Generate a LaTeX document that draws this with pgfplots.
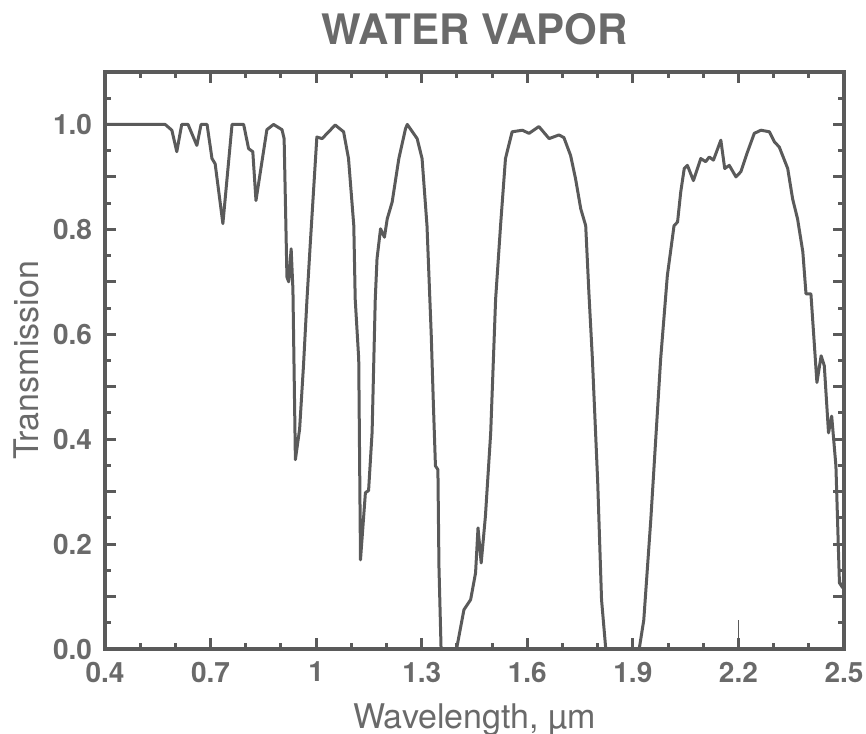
\documentclass[border=0pt]{standalone}
\usepackage{fontspec}
\setmainfont{TeX Gyre Heros}
\usepackage{pgfplots}
\pgfplotsset{compat=1.18}
\definecolor{ink}{HTML}{5A5A5A}
\definecolor{txt}{HTML}{6A6A6A}

\begin{document}
\begin{tikzpicture}
\begin{axis}[
    scale only axis,
    width=369.5pt,
    height=288.5pt,
    xmin=0.4, xmax=2.5,
    ymin=0, ymax=1.1,
    axis line style={ink, line width=1.6pt},
    tick align=inside,
    tick style={ink, line width=1.5pt},
    major tick length=5.5pt,
    minor tick length=3pt,
    xtick={0.4,0.7,1.0,1.3,1.6,1.9,2.2,2.5},
    xticklabels={0.4,0.7,1,1.3,1.6,1.9,2.2,2.5},
    minor x tick num=2,
    ytick={0,0.1,0.2,0.3,0.4,0.5,0.6,0.7,0.8,0.9,1.0,1.1},
    yticklabels={0.0,,0.2,,0.4,,0.6,,0.8,,1.0,},
    minor y tick num=1,
    /pgf/number format/assume math mode=true,
    ticklabel style={font=\fontsize{14}{16}\selectfont\bfseries, text=txt},
    yticklabel style={xshift=-3pt},
    xticklabel style={yshift=-3pt},
    xlabel={Wavelength, µm},
    ylabel={Transmission},
    label style={font=\fontsize{17}{19}\selectfont, text=txt},
    xlabel style={yshift=-3.5pt},
    ylabel style={yshift=0pt},
    title={WATER VAPOR},
    title style={font=\fontsize{21}{24}\selectfont\bfseries, text=txt, yshift=4pt},
]
\addplot[ink, line width=1.5pt, line join=round] coordinates {
  (0.400,1.000) (0.571,1.000) (0.590,0.989) (0.604,0.948) (0.618,1.000)
  (0.636,1.000) (0.661,0.960) (0.673,1.000) (0.690,1.000) (0.704,0.935)
  (0.713,0.925) (0.735,0.811) (0.761,1.000) (0.794,1.000) (0.808,0.954)
  (0.820,0.948) (0.829,0.855) (0.860,0.990) (0.879,1.000) (0.903,0.990)
  (0.909,0.973) (0.917,0.709) (0.922,0.700) (0.929,0.763) (0.934,0.686)
  (0.941,0.361) (0.953,0.419) (0.964,0.540) (0.974,0.667) (0.983,0.769)
  (1.002,0.976) (1.017,0.973) (1.040,0.989) (1.054,0.999) (1.078,0.986)
  (1.092,0.935) (1.107,0.807) (1.111,0.667) (1.121,0.553) (1.126,0.170)
  (1.140,0.298) (1.149,0.302) (1.159,0.413) (1.168,0.667) (1.173,0.744)
  (1.183,0.801) (1.194,0.785) (1.202,0.820) (1.216,0.852) (1.235,0.935)
  (1.254,0.992) (1.259,1.000) (1.287,0.973) (1.301,0.935) (1.315,0.807)
  (1.327,0.600) (1.333,0.470) (1.339,0.349) (1.346,0.342) (1.349,0.157)
  (1.355,0.000) (1.399,0.000) (1.420,0.075) (1.439,0.094) (1.453,0.145)
  (1.460,0.231) (1.469,0.164) (1.481,0.253) (1.496,0.412) (1.510,0.667)
  (1.524,0.807) (1.538,0.935) (1.557,0.986) (1.586,0.989) (1.605,0.983)
  (1.633,0.996) (1.662,0.973) (1.690,0.980) (1.704,0.975) (1.723,0.941)
  (1.737,0.897) (1.752,0.839) (1.766,0.807) (1.775,0.680) (1.785,0.553)
  (1.800,0.320) (1.811,0.094) (1.823,0.000) (1.918,0.000) (1.931,0.055)
  (1.951,0.247) (1.965,0.400) (1.979,0.553) (1.998,0.712) (2.017,0.807)
  (2.027,0.814) (2.036,0.871) (2.046,0.916) (2.055,0.922) (2.072,0.893)
  (2.093,0.935) (2.107,0.929) (2.117,0.938) (2.129,0.932) (2.150,0.970)
  (2.161,0.916) (2.174,0.922) (2.193,0.900) (2.207,0.910) (2.226,0.948)
  (2.245,0.983) (2.264,0.989) (2.288,0.986) (2.302,0.967) (2.316,0.957)
  (2.340,0.916) (2.354,0.858) (2.368,0.820) (2.383,0.757) (2.392,0.677)
  (2.406,0.677) (2.423,0.508) (2.435,0.559) (2.444,0.540) (2.456,0.412)
  (2.465,0.444) (2.477,0.349) (2.487,0.126) (2.496,0.117) (2.500,0.140)
};
\addplot[ink, line width=0.8pt] coordinates {(2.2,0) (2.2,0.055)};
\end{axis}
\pgfresetboundingbox
\path[use as bounding box] (-52.5pt,-42pt) rectangle (380.5pt,324.5pt);
\end{tikzpicture}
\end{document}
